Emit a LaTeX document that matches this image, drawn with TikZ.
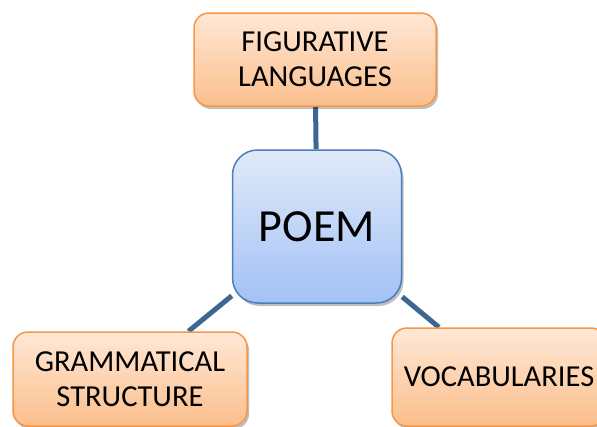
\documentclass[tikz,border=0pt]{standalone}
\usepackage{fontspec}
\setmainfont{Carlito}
\usetikzlibrary{shadows,backgrounds}
\definecolor{orgborder}{HTML}{F79646}
\definecolor{orgtop}{HTML}{FFE8D6}
\definecolor{orgbot}{HTML}{FBBE8C}
\definecolor{bluborder}{HTML}{4A7EBB}
\definecolor{blutop}{HTML}{E0EAFA}
\definecolor{blubot}{HTML}{A3C1F5}
\definecolor{linkcol}{HTML}{3F6594}
\tikzset{
  leafbox/.style={draw=orgborder, line width=1.5pt, rounded corners=15pt,
    top color=orgtop, bottom color=orgbot, align=center, inner sep=0pt,
    font=\fontsize{30.5}{35}\selectfont,
    drop shadow={shadow xshift=2pt, shadow yshift=-3pt, opacity=0.25, fill=black}},
  hubbox/.style={draw=bluborder, line width=1.5pt, rounded corners=25pt,
    top color=blutop, bottom color=blubot, align=center, inner sep=0pt,
    font=\fontsize{46}{52}\selectfont,
    drop shadow={shadow xshift=2pt, shadow yshift=-3pt, opacity=0.25, fill=black}},
  link/.style={draw=linkcol, line width=5pt}
}
\begin{document}
\begin{tikzpicture}[x=1pt,y=-1pt]
\useasboundingbox (0,0) rectangle (597,426);
\clip (0,0) rectangle (597,426);
\node[hubbox, minimum width=169pt, minimum height=153pt] (poem) at (317,226.5) {POEM};
\node[leafbox, minimum width=242pt, minimum height=93pt] (fig) at (315,59.5) {FIGURATIVE\\LANGUAGES};
\node[leafbox, minimum width=234pt, minimum height=94pt] (gram) at (130,379) {GRAMMATICAL\\STRUCTURE};
\node[leafbox, minimum width=214pt, minimum height=98pt] (voc) at (499,377) {VOCABULARIES};
\begin{scope}[on background layer]
\fill[white] (0,0) rectangle (597,426);
\draw[link] (fig) -- (poem);
\draw[link] (poem) -- (gram);
\draw[link] (poem) -- (voc);
\end{scope}
\end{tikzpicture}
\end{document}
